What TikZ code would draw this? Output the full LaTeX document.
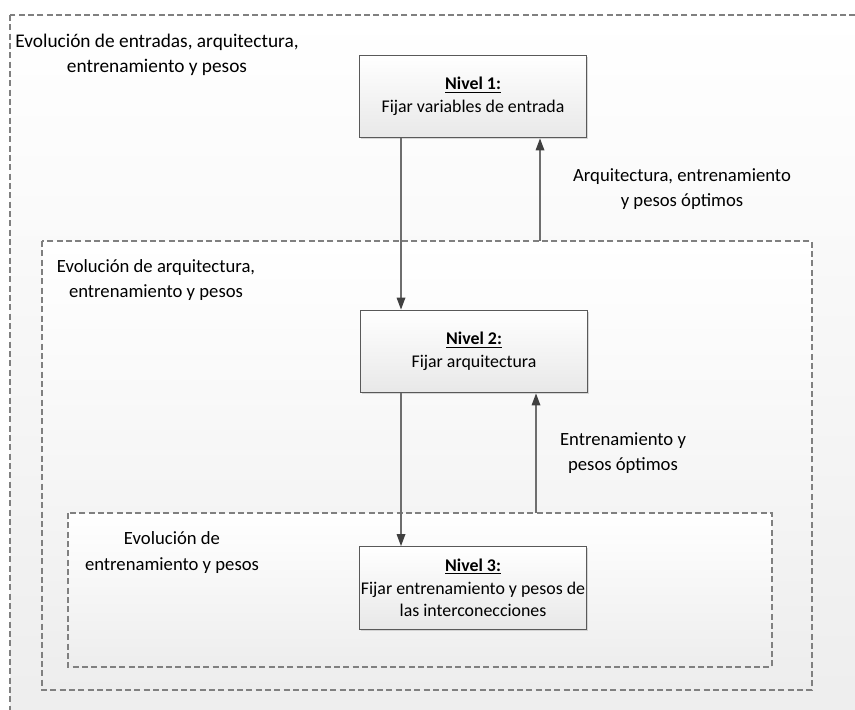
\documentclass[tikz,border=0pt]{standalone}
\usepackage{fontspec}
\setmainfont{Carlito}
\usetikzlibrary{arrows.meta, shadows}
\definecolor{edgeGray}{RGB}{89, 89, 89}
\definecolor{zoneGray}{RGB}{128, 128, 128}
\definecolor{flowGray}{RGB}{110, 110, 110}

\begin{document}
\begin{tikzpicture}[x=0.75pt, y=-0.75pt, font=\fontsize{14}{18.8}\selectfont,
  zone/.style={draw=zoneGray, dash pattern=on 4.5pt off 2.5pt, line width=0.8pt,
    top color=white, bottom color=black!7},
  level/.style={draw=edgeGray, line width=0.9pt, top color=white, bottom color=black!9,
    minimum width=170pt, minimum height=62pt, align=center, inner sep=1pt,
    font=\fontsize{13.4}{17}\selectfont,
    drop shadow={shadow xshift=1.2pt, shadow yshift=-1.2pt, fill=black!25, opacity=0.6}},
  flow/.style={draw=flowGray, line width=0.9pt,
    -{Triangle[length=9pt, width=6.5pt, color=black!75]}},
  tag/.style={align=center}]
  \useasboundingbox[fill=white] (0,0) rectangle (855,709);

  % Nested evolution zones
  \draw[zone] (10,15) rectangle (875,730);
  \draw[zone] (42,241) rectangle (812,690);
  \draw[zone] (68,513) rectangle (772,667);

  % Zone captions
  \node[tag, font=\fontsize{14.5}{18.8}\selectfont] (capOuter) at (157,54.5) {Evolución de entradas, arquitectura,\\entrenamiento y pesos};
  \node[tag] (capMid) at (156,280) {Evolución de arquitectura,\\entrenamiento y pesos};
  \node[tag] (capIn) at (172,552.5) {Evolución de\\entrenamiento y pesos};

  % Levels
  \node[level] (lvl1) at (473,96.5) {\underline{\textbf{Nivel 1:}}\\Fijar variables de entrada};
  \node[level] (lvl2) at (474,351.5) {\underline{\textbf{Nivel 2:}}\\Fijar arquitectura};
  \node[level] (lvl3) at (473,588) {\underline{\textbf{Nivel 3:}}\\Fijar entrenamiento y pesos de\\las interconecciones};

  % Feedback labels
  \node[tag] (back1) at (682,189.5) {Arquitectura, entrenamiento\\y pesos óptimos};
  \node[tag] (back2) at (623,453.5) {Entrenamiento y\\pesos óptimos};

  % Arrows
  \coordinate (down) at (401,0);
  \coordinate (up1) at (540,241);
  \coordinate (up2) at (536,513);
  \draw[flow] (lvl1.south -| down) -- (lvl2.north -| down);
  \draw[flow] (up1) -- (up1 |- lvl1.south);
  \draw[flow] (lvl2.south -| down) -- (lvl3.north -| down);
  \draw[flow] (up2) -- (up2 |- lvl2.south);
\end{tikzpicture}
\end{document}
